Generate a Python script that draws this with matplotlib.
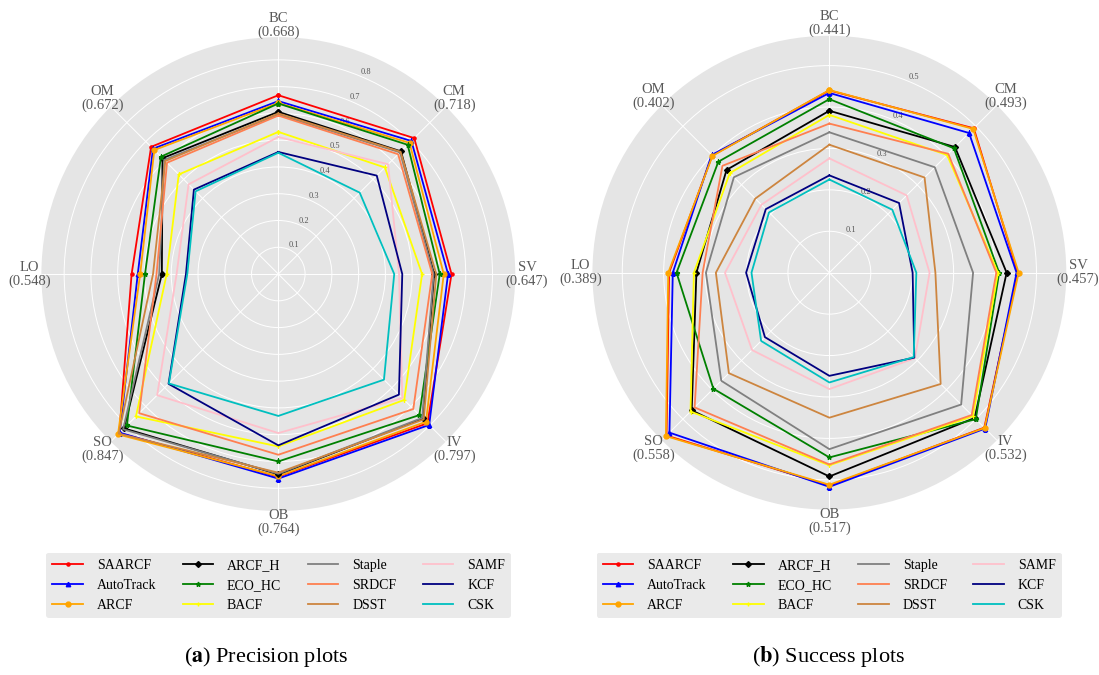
import numpy as np
import matplotlib
matplotlib.use('Agg')
import matplotlib.pyplot as plt

plt.rcParams.update({
    'font.family': ['Liberation Serif', 'DejaVu Serif'],
    'mathtext.fontset': 'stix',
    'axes.facecolor': '#E5E5E5',
})

attrs = ['BC', 'CM', 'SV', 'IV', 'OB', 'SO', 'LO', 'OM']
trackers = ['SAARCF', 'AutoTrack', 'ARCF', 'ARCF_H', 'ECO_HC', 'BACF',
            'Staple', 'SRDCF', 'DSST', 'SAMF', 'KCF', 'CSK']
colors = ['red', 'blue', 'orange', 'black', 'green', 'yellow',
          'grey', 'coral', 'peru', 'pink', 'navy', 'c']
markers = ['.', '^', 'o', 'D', '*', '+', '', '', '', '', '', '']
msizes = [4.5, 3.2, 3.5, 3, 3.5, 3.5, 0, 0, 0, 0, 0, 0]

# precision per tracker, attribute order as in attrs
precision = [
    [0.668, 0.718, 0.647, 0.788, 0.757, 0.840, 0.548, 0.672],
    [0.646, 0.703, 0.634, 0.797, 0.764, 0.838, 0.525, 0.662],
    [0.639, 0.693, 0.618, 0.780, 0.755, 0.847, 0.516, 0.655],
    [0.606, 0.648, 0.582, 0.763, 0.748, 0.815, 0.435, 0.612],
    [0.637, 0.683, 0.603, 0.745, 0.700, 0.800, 0.498, 0.620],
    [0.531, 0.563, 0.537, 0.665, 0.644, 0.752, 0.417, 0.526],
    [0.596, 0.643, 0.580, 0.760, 0.746, 0.820, 0.445, 0.603],
    [0.592, 0.633, 0.575, 0.713, 0.675, 0.735, 0.455, 0.588],
    [0.600, 0.646, 0.590, 0.768, 0.742, 0.843, 0.468, 0.597],
    [0.512, 0.580, 0.451, 0.655, 0.594, 0.640, 0.380, 0.474],
    [0.456, 0.520, 0.463, 0.637, 0.640, 0.580, 0.345, 0.446],
    [0.453, 0.430, 0.433, 0.558, 0.530, 0.578, 0.340, 0.437],
]

# success (AUC) per tracker
success = [
    [0.440, 0.493, 0.455, 0.529, 0.514, 0.556, 0.387, 0.400],
    [0.434, 0.477, 0.452, 0.532, 0.517, 0.546, 0.378, 0.402],
    [0.441, 0.491, 0.457, 0.530, 0.512, 0.558, 0.389, 0.399],
    [0.391, 0.429, 0.428, 0.496, 0.492, 0.470, 0.321, 0.351],
    [0.419, 0.425, 0.410, 0.500, 0.446, 0.396, 0.369, 0.379],
    [0.381, 0.402, 0.407, 0.490, 0.465, 0.474, 0.327, 0.340],
    [0.339, 0.360, 0.347, 0.450, 0.426, 0.369, 0.298, 0.326],
    [0.360, 0.406, 0.403, 0.486, 0.463, 0.460, 0.306, 0.365],
    [0.309, 0.325, 0.256, 0.380, 0.350, 0.343, 0.274, 0.253],
    [0.276, 0.264, 0.242, 0.292, 0.281, 0.264, 0.252, 0.232],
    [0.235, 0.238, 0.201, 0.290, 0.249, 0.220, 0.201, 0.217],
    [0.225, 0.215, 0.210, 0.288, 0.265, 0.233, 0.188, 0.206],
]


def radar(ax, data, rmax, rticks):
    n = len(attrs)
    ang = np.arange(n) * 2 * np.pi / n
    ang_c = np.append(ang, ang[0])
    ax.set_theta_offset(np.pi / 2)
    ax.set_theta_direction(-1)
    for vals, col, mk, ms, name in zip(data, colors, markers, msizes, trackers):
        v = np.append(vals, vals[0])
        ax.plot(ang_c, v, color=col, lw=1.3, marker=mk or None, ms=ms, label=name)
    ax.set_ylim(0, rmax)
    ax.set_yticks(rticks)
    ax.set_yticklabels([f'{t:.1f}' for t in rticks], fontsize=6, color='#555555')
    ax.set_rlabel_position(22.5)
    ax.set_xticks(ang)
    ax.set_xticklabels([])
    ax.grid(color='white', lw=0.7)
    ax.spines['polar'].set_visible(False)
    ax.tick_params(length=0)
    # attribute name with the best score on that attribute
    best = np.max(np.array(data), axis=0)
    for a, name, b in zip(ang, attrs, best):
        ax.text(a, rmax * 1.05, f'{name}\n({b:.3f})', ha='center', va='center',
                fontsize=10.5, color='#595959', linespacing=1.05)


fig = plt.figure(figsize=(10.99, 6.75), dpi=100)
ax1 = fig.add_axes([0.0376, 0.243, 0.4313, 0.702], projection='polar')
ax2 = fig.add_axes([0.539, 0.245, 0.4313, 0.702], projection='polar')

radar(ax1, precision, 0.885, [0.1, 0.2, 0.3, 0.4, 0.5, 0.6, 0.7, 0.8])
radar(ax2, success, 0.572, [0.1, 0.2, 0.3, 0.4, 0.5])

for ax, x in ((ax1, 0.2535), (ax2, 0.7545)):
    h, l = ax.get_legend_handles_labels()
    fig.legend(h, l, loc='center', bbox_to_anchor=(x, 0.133), ncol=4,
               fontsize=10, frameon=True, fancybox=True, facecolor='#EAEAEA',
               edgecolor='none', framealpha=1, handlelength=2.2, handletextpad=1.0,
               columnspacing=1.9, labelspacing=0.5, borderpad=0.45)

fig.text(0.242, 0.027, r'($\mathbf{a}$) Precision plots', ha='center', va='center', fontsize=16)
fig.text(0.754, 0.027, r'($\mathbf{b}$) Success plots', ha='center', va='center', fontsize=16)

fig.savefig('out.png', dpi=100)
